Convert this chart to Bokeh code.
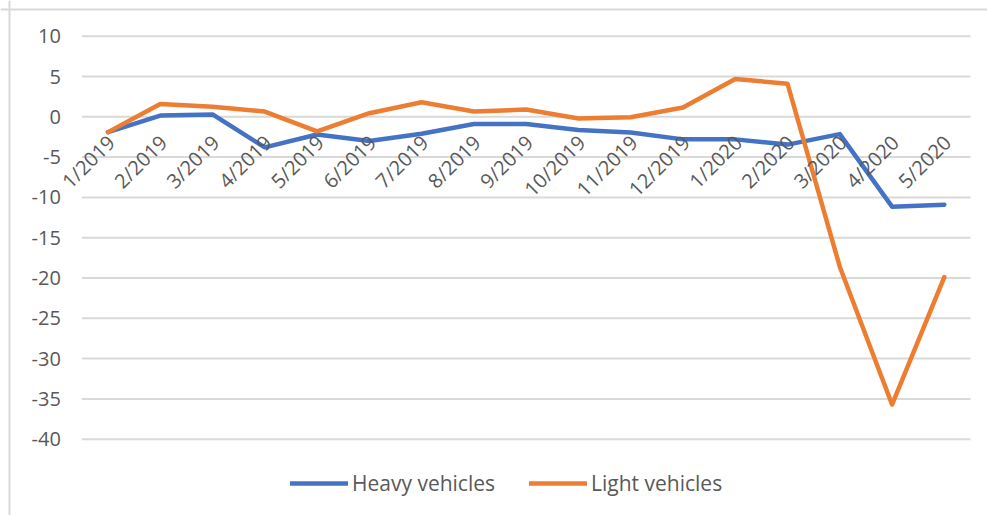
import math
from bokeh.plotting import figure
from bokeh.models import Range1d, Legend, LegendItem, ColumnDataSource, Span
from bokeh.core.properties import value
from bokeh.embed import file_html
from bokeh.resources import INLINE

months = ["1/2019", "2/2019", "3/2019", "4/2019", "5/2019", "6/2019", "7/2019",
          "8/2019", "9/2019", "10/2019", "11/2019", "12/2019", "1/2020", "2/2020",
          "3/2020", "4/2020", "5/2020"]
heavy = [-1.9, 0.15, 0.3, -3.8, -2.2, -3.0, -2.1, -0.9, -0.9, -1.65, -1.95,
         -2.8, -2.8, -3.45, -2.15, -11.15, -10.9]
light = [-1.9, 1.6, 1.25, 0.65, -1.8, 0.45, 1.8, 0.65, 0.9, -0.2, -0.05,
         1.15, 4.7, 4.1, -18.6, -35.7, -19.9]
y_ticks = [10, 5, 0, -5, -10, -15, -20, -25, -30, -35, -40]
y_tick_labels = ["10", "5", "0", "-5", "-10", "-15", "-20", "-25", "-30", "-35", "-40"]
axis_cross = 0

FONT = "Open Sans"
GREY = "#595959"
BLUE = "#4472C4"
ORANGE = "#ED7D31"
BORDER = "#d9d9d9"

W, H = 987, 515
PX_PER_CAT = 52.27      # pixel width of one category
PX_PER_UNIT = 8.06      # pixels per y unit
FIRST_CAT_PX = 107.5    # pixel x of first category centre
ZERO_PX = 116.3         # pixel y of the zero line
BORDER_PX = 9           # chart-area border inset

n = len(months)
idx = list(range(n))
cat_lo, cat_hi = -0.5, n - 0.5

x_start = -FIRST_CAT_PX / PX_PER_CAT
x_end = x_start + W / PX_PER_CAT
y_end = ZERO_PX / PX_PER_UNIT
y_start = y_end - H / PX_PER_UNIT

p = figure(width=W, height=H, output_backend="svg", toolbar_location=None,
           x_range=Range1d(x_start, x_end), y_range=Range1d(y_start, y_end),
           min_border=0)
p.axis.visible = False
p.grid.visible = False
p.outline_line_color = None
p.background_fill_color = "white"

# chart-area border (top and left edges visible)
p.add_layout(Span(location=y_end - BORDER_PX / PX_PER_UNIT, dimension="width",
                  line_color=BORDER, line_width=2))
p.add_layout(Span(location=x_start + BORDER_PX / PX_PER_CAT, dimension="height",
                  line_color=BORDER, line_width=2))

# horizontal gridlines across the category area
grid = ColumnDataSource(dict(y=y_ticks, lab=y_tick_labels,
                             x0=[cat_lo] * len(y_ticks), x1=[cat_hi] * len(y_ticks)))
p.segment(x0="x0", y0="y", x1="x1", y1="y", source=grid,
          line_color=BORDER, line_width=2)
# y tick labels
p.text(x="x0", y="y", text="lab", source=grid, text_align="right",
       text_baseline="middle", x_offset=-21, text_font=value(FONT),
       text_font_size="20px", text_color=GREY)

src = ColumnDataSource(dict(i=idx, m=months, heavy=heavy, light=light,
                            base=[axis_cross] * n))

r_heavy = p.line("i", "heavy", source=src, line_color=BLUE, line_width=4.5,
                 line_cap="round", line_join="round")
r_light = p.line("i", "light", source=src, line_color=ORANGE, line_width=4.5,
                 line_cap="round", line_join="round")

# category labels, rotated, hanging under the zero line
p.text(x="i", y="base", text="m", source=src, angle=math.pi / 4,
       text_align="right", text_baseline="middle", x_offset=3, y_offset=22,
       text_font=value(FONT), text_font_size="20px", text_color=GREY)

legend = Legend(items=[LegendItem(label="Heavy vehicles", renderers=[r_heavy]),
                       LegendItem(label="Light vehicles", renderers=[r_light])],
                location=(290, 18), orientation="horizontal",
                glyph_width=58, glyph_height=20, label_standoff=4, spacing=34,
                padding=0, margin=0, border_line_color=None,
                background_fill_alpha=0,
                label_text_font=FONT, label_text_font_size="21px",
                label_text_color=GREY)
p.add_layout(legend)

open("out.html", "w").write(file_html(p, INLINE))
